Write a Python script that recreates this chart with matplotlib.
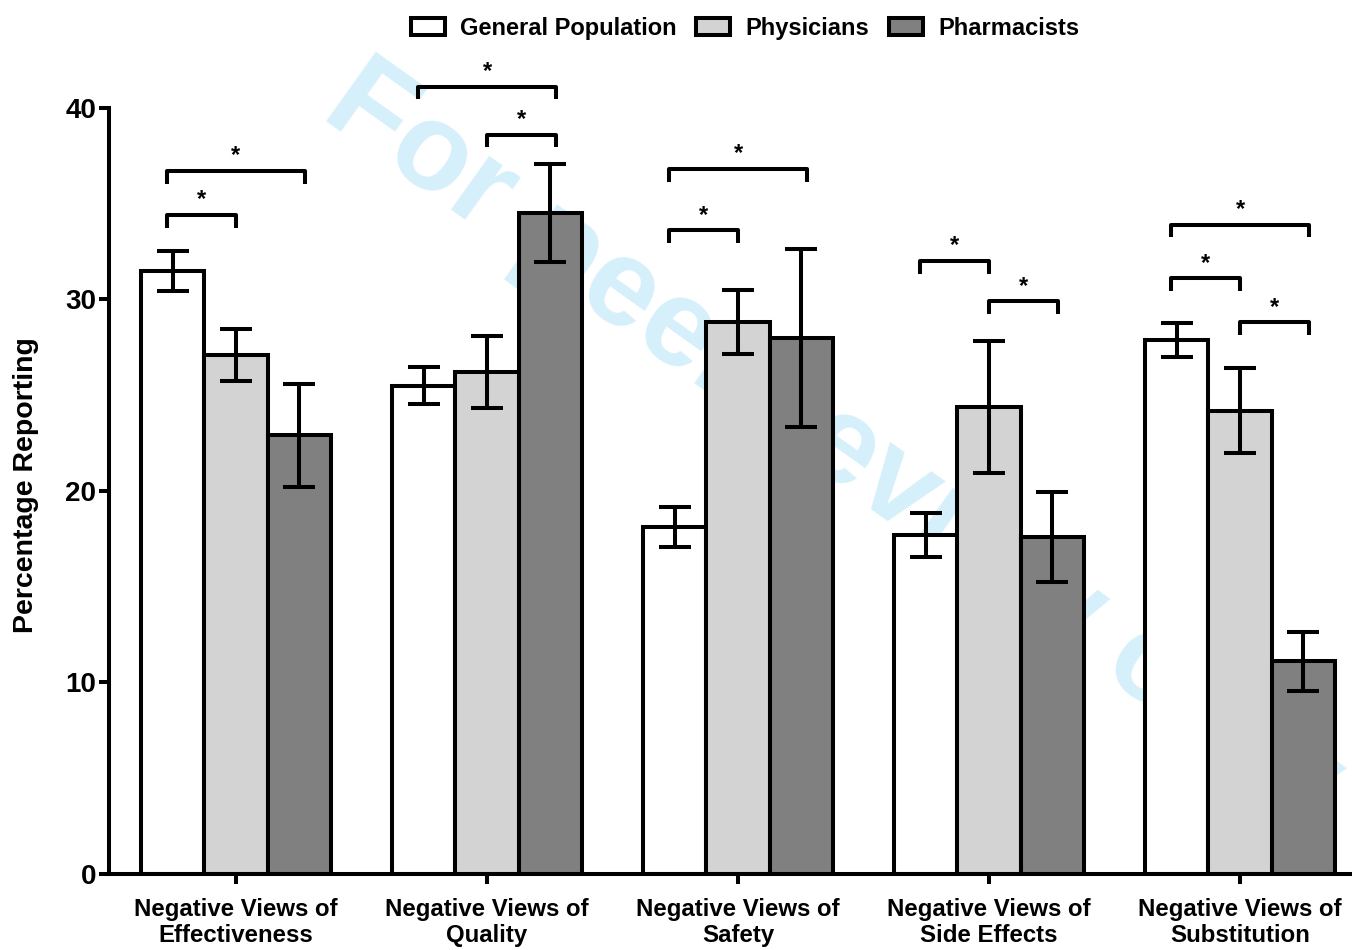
import matplotlib
matplotlib.use("Agg")
import matplotlib.pyplot as plt
from matplotlib.patches import Patch
import numpy as np

plt.rcParams['font.family'] = ['Liberation Sans', 'DejaVu Sans']
plt.rcParams['font.weight'] = 'bold'

categories = ["Negative Views of\nEffectiveness", "Negative Views of\nQuality",
              "Negative Views of\nSafety", "Negative Views of\nSide Effects",
              "Negative Views of\nSubstitution"]
groups = ["General Population", "Physicians", "Pharmacists"]

general = [31.5, 25.5, 18.1, 17.7, 27.9]
general_err = [1.05, 0.97, 1.04, 1.17, 0.89]
physicians = [27.1, 26.2, 28.8, 24.4, 24.2]
physicians_err = [1.36, 1.88, 1.67, 3.45, 2.22]
pharmacists = [22.9, 34.5, 28.0, 17.6, 11.1]
pharmacists_err = [2.7, 2.56, 4.65, 2.35, 1.54]

# significance brackets: (category, bar i, bar j, height)
brackets = [
    (0, 0, 1, 34.4), (0, 0, 2, 36.7),
    (1, 0, 2, 41.1), (1, 1, 2, 38.6),
    (2, 0, 1, 33.6), (2, 0, 2, 36.8),
    (3, 0, 1, 32.0), (3, 1, 2, 29.9),
    (4, 0, 1, 31.1), (4, 0, 2, 33.9), (4, 1, 2, 28.8),
]

colors = ["white", "#d3d3d3", "#808080"]
lw = 2.9

fig = plt.figure(figsize=(13.52, 9.5), dpi=100)
ax = fig.add_axes([0.0806, 0.08, 0.9194, 0.8568])

x = np.arange(len(categories))
w = 0.252
series = [(general, general_err), (physicians, physicians_err), (pharmacists, pharmacists_err)]
for k, (vals, errs) in enumerate(series):
    pos = x + (k - 1) * w
    ax.bar(pos, vals, width=w, color=colors[k], edgecolor="black", linewidth=lw,
           label=groups[k], zorder=2)
    ax.errorbar(pos, vals, yerr=errs, fmt="none", ecolor="black", elinewidth=lw,
                capsize=11.5, capthick=lw, zorder=3)

leg_h = 0.65
for cat, i, j, h in brackets:
    x1 = x[cat] + (i - 1) * w - (0.024 if i == 0 else 0)
    x2 = x[cat] + (j - 1) * w + (0.024 if j == 2 else 0)
    ax.plot([x1, x1, x2, x2], [h - leg_h, h, h, h - leg_h], color="black",
            lw=lw, clip_on=False, solid_capstyle="butt", zorder=4)
    ax.text((x1 + x2) / 2, h + 0.2, "*", ha="center", va="bottom",
            fontsize=17, fontweight="bold", zorder=4)

ax.text(0.236, 0.878, "For peer review only", transform=fig.transFigure,
        fontsize=90, color="#d6f0fb", rotation=-35.5, rotation_mode="anchor",
        ha="left", va="baseline", fontweight="bold", zorder=1)

ax.set_xlim(-0.506, 4.446)
ax.set_ylim(0, 42.5)
ax.set_yticks([0, 10, 20, 30, 40])
ax.set_xticks(x)
ax.set_xticklabels(categories, fontsize=17.3, fontweight="bold", linespacing=1.2)
ax.tick_params(axis="y", labelsize=20, width=lw, length=7, pad=2)
ax.tick_params(axis="x", width=lw, length=7, pad=10)
ax.spines["top"].set_visible(False)
ax.spines["right"].set_visible(False)
ax.spines["left"].set_linewidth(lw)
ax.spines["bottom"].set_linewidth(lw)
ax.spines["left"].set_bounds(0, 40)
ax.set_ylabel("Percentage Reporting", fontsize=20.5, fontweight="bold")
ax.yaxis.set_label_coords(-0.056, 20.3 / 42.5)

handles = [Patch(facecolor=c, edgecolor="black", linewidth=lw) for c in colors]
fig.legend(handles, groups, loc="upper center", bbox_to_anchor=(0.551, 1.005),
           ncol=3, frameon=False, fontsize=17, handlelength=1.44, handleheight=0.72,
           columnspacing=0.85, handletextpad=0.63)

fig.savefig("out.png", dpi=100)
